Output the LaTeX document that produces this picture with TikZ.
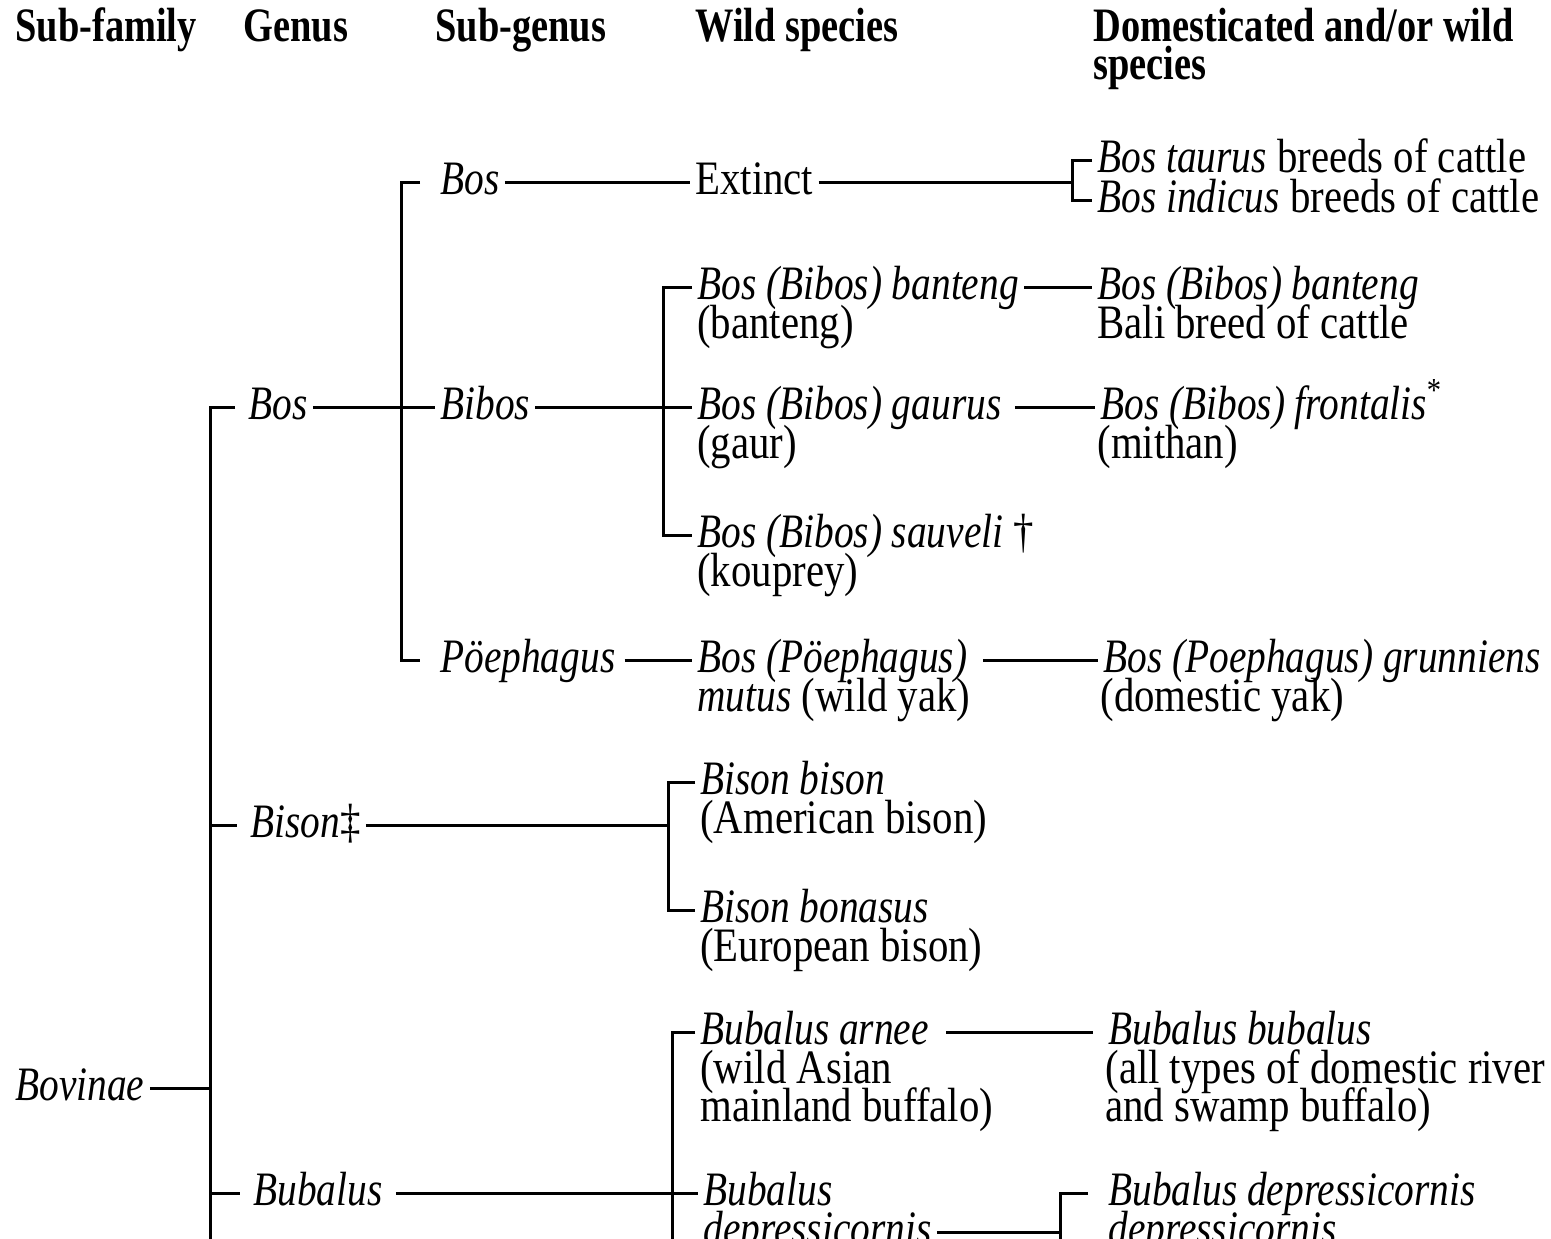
\documentclass[tikz,border=0pt]{standalone}
\usepackage{fontspec}
\setmainfont[FakeStretch=0.85,
  ItalicFont={Liberation Serif Italic}, ItalicFeatures={FakeStretch=0.82}]{Liberation Serif}
\newfontfamily\headfont[FakeStretch=0.80]{Liberation Serif}
\usetikzlibrary{calc}
\tikzset{
  lab/.style={font=\fontsize{24pt}{19pt}\selectfont, inner xsep=2.5pt, inner ysep=0pt,
              text height=16pt, text depth=3.4pt, anchor=west},
  labtwo/.style={font=\fontsize{24pt}{19pt}\selectfont, inner sep=0pt, anchor=base west,
              text height=14.5pt, text depth=3.4pt},
  head/.style={font=\headfont\bfseries\fontsize{24pt}{19pt}\selectfont, inner sep=0pt, anchor=base west},
  link/.style={line width=1.5pt},
}
\begin{document}
\begin{tikzpicture}[x=0.5pt,y=-0.5pt]
\path[use as bounding box] (0,0) rectangle (1551,1238);
\clip (0,0) rectangle (1551,1238);

% headers
\node[head] (h1) at (15,41) {Sub-family};
\node[head] (h2) at (243,41) {Genus};
\node[head] (h3) at (435,41) {Sub-genus};
\node[head] (h4) at (695,41) {Wild species};
\node[head] (h5) at (1093,41) {Domesticated and/or wild};
\node[head] (h6) at (1093,79) {species};

% vertical line positions
\coordinate (v0) at (210,0);
\coordinate (v1) at (401,0);
\coordinate (v2) at (663,0);
\coordinate (v3) at (668,0);
\coordinate (v4) at (672,0);
\coordinate (v5) at (1060,0);
\coordinate (b1) at (1072,0);
\coordinate (gbot) at (210,1260);
\coordinate (v4bot) at (672,1260);
\coordinate (v5bot) at (1060,1260);

% sub-family / genus
\node[lab] (bovinae) at (10,1088) {\itshape Bovinae};
\node[lab] (bosG) at (243,407) {\itshape Bos};
\node[lab] (bisonG) at (245,825) {\textit{Bison}‡};
\node[lab] (bubG) at (248,1193) {\itshape Bubalus};

% sub-genus
\node[lab] (bosS) at (435,182) {\itshape Bos};
\node[lab] (bibos) at (435,407) {\itshape Bibos};
\node[lab] (poe) at (435,660) {\itshape Pöephagus};

% wild species
\node[lab] (extinct) at (690,182) {Extinct};
\node[lab] (bant) at (692,287) {\itshape Bos (Bibos) banteng};
\node[labtwo] (bant2) at (697,338) {(banteng)};
\node[lab] (gaur) at (692,407) {\itshape Bos (Bibos) gaurus};
\node[labtwo] (gaur2) at (697,458) {(gaur)};
\node[lab] (sauv) at (692,535) {\textit{Bos (Bibos) sauveli} †};
\node[labtwo] (sauv2) at (697,586) {(kouprey)};
\node[lab] (mutus) at (692,660) {\itshape Bos (Pöephagus)};
\node[labtwo] (mutus2) at (697,711) {\textit{mutus} (wild yak)};
\node[lab] (bbison) at (695,782) {\itshape Bison bison};
\node[labtwo] (bbison2) at (700,833) {(American bison)};
\node[lab] (bonas) at (695,910) {\itshape Bison bonasus};
\node[labtwo] (bonas2) at (700,961) {(European bison)};
\node[lab] (arnee) at (695,1032) {\itshape Bubalus arnee};
\node[labtwo] (arnee2) at (700,1083) {(wild Asian};
\node[labtwo] (arnee3) at (700,1121) {mainland buffalo)};
\node[lab] (bubdep) at (698,1193) {\itshape Bubalus};
\node[lab] (bubdep2) at (698,1232) {\itshape depressicornis};

% domesticated and/or wild species
\node[lab] (taurus) at (1092,160) {\textit{Bos taurus} breeds of cattle};
\node[lab] (indicus) at (1092,200) {\textit{Bos indicus} breeds of cattle};
\node[lab] (bantD) at (1092,287) {\itshape Bos (Bibos) banteng};
\node[labtwo] (bantD2) at (1097,338) {Bali breed of cattle};
\node[lab] (front) at (1095,407) {\textit{Bos (Bibos) frontalis}\textsuperscript{*}};
\node[labtwo] (front2) at (1097,458) {(mithan)};
\node[lab] (grunn) at (1098,660) {\itshape Bos (Poephagus) grunniens};
\node[labtwo] (grunn2) at (1100,711) {(domestic yak)};
\node[lab] (bubbub) at (1103,1032) {\itshape Bubalus bubalus};
\node[labtwo] (bubbub2) at (1105,1083) {(all types of domestic river};
\node[labtwo] (bubbub3) at (1105,1121) {and swamp buffalo)};
\node[lab] (depdep) at (1103,1193) {\itshape Bubalus depressicornis};
\node[lab] (depdep2) at (1103,1232) {\itshape depressicornis};

% connectors: sub-family
\draw[link] (bovinae.east) -- (bovinae.east -| v0);
\draw[link] ([xshift=-4pt]bosG.west) -- (bosG.west -| v0) -- (gbot);
\draw[link] (bisonG.west -| v0) -- ([xshift=-4pt]bisonG.west);
\draw[link] (bubG.west -| v0) -- ([xshift=-4pt]bubG.west);

% genus Bos
\draw[link] ([xshift=-7.5pt]bosS.west) -- (bosS.west -| v1) -- (poe.west -| v1) -- ([xshift=-7.5pt]poe.west);
\draw[link] (bosG.east) -- (bibos.west);

% sub-genus Bos
\draw[link] (bosS.east) -- (extinct.west);
\draw[link] (extinct.east) -- (extinct.east -| b1);
\draw[link] (taurus.west) -- (taurus.west -| b1) -- (indicus.west -| b1) -- (indicus.west);

% sub-genus Bibos
\draw[link] (bibos.east) -- (gaur.west);
\draw[link] (bant.west) -- (bant.west -| v2) -- (sauv.west -| v2) -- (sauv.west);
\draw[link] (bant.east) -- (bantD.west);
\draw[link] ([xshift=4pt]gaur.east) -- (front.west);

% sub-genus Poephagus
\draw[link] ([xshift=2pt]poe.east) -- (mutus.west);
\draw[link] ([xshift=5pt]mutus.east) -- (grunn.west);

% genus Bison
\draw[link] (bisonG.east) -- (bisonG.east -| v3);
\draw[link] (bbison.west) -- (bbison.west -| v3) -- (bonas.west -| v3) -- (bonas.west);

% genus Bubalus
\draw[link] ([xshift=4pt]bubG.east) -- (bubdep.west);
\draw[link] (arnee.west) -- (arnee.west -| v4) -- (v4bot);
\draw[link] ([xshift=6pt]arnee.east) -- ([xshift=-5pt]bubbub.west);
\draw[link] (bubdep2.east) -- (bubdep2.east -| v5);
\draw[link] ([xshift=-7.5pt]depdep.west) -- (depdep.west -| v5) -- (v5bot);
\end{tikzpicture}
\end{document}
